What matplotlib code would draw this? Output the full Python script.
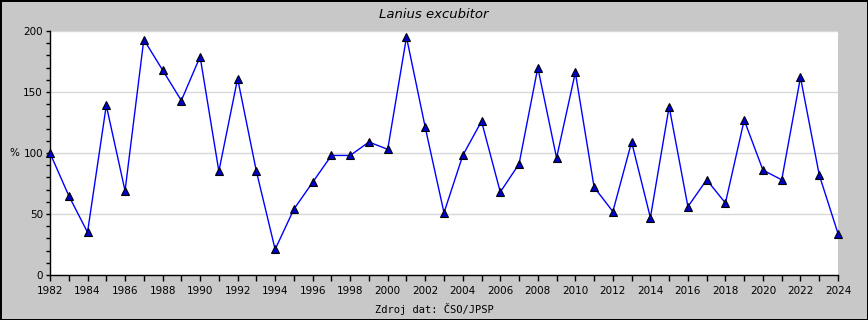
import numpy as np
import matplotlib
matplotlib.use('Agg')
import matplotlib.pyplot as plt
from matplotlib.ticker import MultipleLocator

# data
years = list(range(1982, 2025))
index_pct = [100, 65, 35, 139, 69, 193, 168, 143, 179, 85,
             161, 85, 21, 54, 76, 98, 98, 109, 103, 195,
             121, 51, 98, 126, 68, 91, 170, 96, 166, 72,
             52, 109, 47, 138, 56, 78, 59, 127, 86, 78,
             162, 82, 34]
title = 'Lanius excubitor'
source = 'Zdroj dat: ČSO/JPSP'

W, H = 868, 320
fig = plt.figure(figsize=(W / 100, H / 100), dpi=100)
fig.patch.set_facecolor('#C8C8C8')
fig.patch.set_edgecolor('black')
fig.patch.set_linewidth(2)

# plot area in pixels: x 50..838, y 31..275
ax = fig.add_axes([50 / W, (H - 275) / H, (838 - 50) / W, (275 - 31) / H])
ax.set_facecolor('white')
ax.plot(years, index_pct, color='#0000FF', lw=1, marker='^', ms=5.5,
        mfc='#0000CC', mec='black', mew=0.8, clip_on=False, zorder=3)

ax.set_xlim(1982, 2024)
ax.set_ylim(0, 200)
ax.xaxis.set_major_locator(MultipleLocator(2))
ax.xaxis.set_minor_locator(MultipleLocator(1))
ax.yaxis.set_major_locator(MultipleLocator(50))
ax.yaxis.set_minor_locator(MultipleLocator(10))
ax.grid(axis='y', which='major', color='#D8D8D8', lw=1)
ax.set_axisbelow(True)

for s in ['top', 'right']:
    ax.spines[s].set_visible(False)
for s in ['left', 'bottom']:
    ax.spines[s].set_color('black')
    ax.spines[s].set_linewidth(1)

ax.tick_params(axis='x', which='both', length=4, width=1, direction='out',
               labelsize=7.5, pad=4)
ax.tick_params(axis='y', which='both', length=3, width=1, direction='out',
               labelsize=7.5, pad=2)

fig.text(14 / W, 1 - 153 / H, '%', fontsize=7.5, ha='center', va='center')
fig.text(0.5, 1 - 15 / H, title, fontsize=9.5, style='italic',
         ha='center', va='center')
fig.text(0.5, 1 - 309 / H, source, fontsize=7.5, family='DejaVu Sans Mono',
         ha='center', va='center')

fig.savefig('out.png', dpi=100, facecolor=fig.get_facecolor(),
            edgecolor=fig.get_edgecolor())
